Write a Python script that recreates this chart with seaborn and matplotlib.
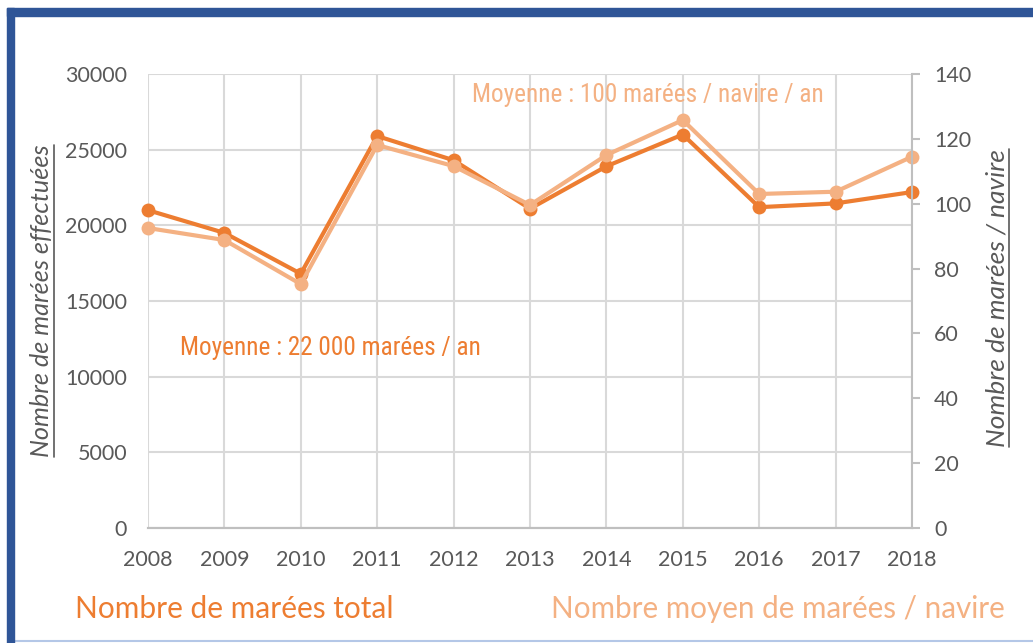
import matplotlib
matplotlib.use('Agg')
import matplotlib.pyplot as plt
import seaborn as sns
import pandas as pd
from matplotlib import font_manager as fm
from matplotlib.patches import Rectangle
from matplotlib.lines import Line2D

sns.set_theme(style='white')
plt.rcParams['font.family'] = ['Lato', 'DejaVu Sans']

# Data
years = [2008, 2009, 2010, 2011, 2012, 2013, 2014, 2015, 2016, 2017, 2018]
marees_total = [21000, 19500, 16800, 25900, 24300, 21100, 23900, 26000, 21200, 21450, 22200]
marees_navire = [92.5, 88.8, 75.2, 118.1, 111.6, 99.6, 115.0, 125.8, 103.0, 103.7, 114.5]
left_ticks = [0, 5000, 10000, 15000, 20000, 25000, 30000]
right_ticks = [0, 20, 40, 60, 80, 100, 120, 140]

dark = '#ED7D31'
light = '#F4B183'
grey_txt = '#595959'
grid_c = '#D9D9D9'

# look for a narrow font for the "Moyenne" notes
narrow_fp = None
cands = [f for f in fm.findSystemFonts() if ('Narrow' in f or 'Condensed' in f)
         and 'Bold' not in f and 'Oblique' not in f and 'Italic' not in f]
for key in ['LiberationSansNarrow-Regular', 'RobotoCondensed-Regular', 'DejaVuSansCondensed.ttf',
            'Condensed-Regular', 'Condensed', 'Narrow']:
    hits = [f for f in cands if key in f]
    if hits:
        narrow_fp = fm.FontProperties(fname=sorted(hits)[0])
        break
if narrow_fp is None:
    narrow_fp = fm.FontProperties(family='DejaVu Sans')

df = pd.DataFrame({'annee': years, 'total': marees_total, 'navire': marees_navire})

fig = plt.figure(figsize=(10.33, 6.43), dpi=100)
ax = fig.add_axes([148/1033, 1-528/643, (912-148)/1033, (528-74)/643])

sns.lineplot(data=df, x='annee', y='total', ax=ax, color=dark, lw=3, marker='o',
             markersize=10, markeredgewidth=0, clip_on=False)
ax2 = ax.twinx()
sns.lineplot(data=df, x='annee', y='navire', ax=ax2, color=light, lw=3, marker='o',
             markersize=10, markeredgewidth=0, clip_on=False)

ax.set_xlim(2008, 2018)
ax.set_ylim(0, 30000)
ax2.set_ylim(0, 140)
ax.set_xticks(years)
ax.set_xticklabels([str(y) for y in years])
ax.set_yticks(left_ticks)
ax2.set_yticks(right_ticks)

ax.grid(True, color=grid_c, lw=1.5)
ax.set_axisbelow(True)
ax2.grid(False)

for a in (ax, ax2):
    for s in ('top', 'left', 'right'):
        a.spines[s].set_visible(False)
    a.spines['bottom'].set_color('#BFBFBF')
    a.spines['bottom'].set_linewidth(1.5)
ax2.spines['right'].set_visible(True)
ax2.spines['right'].set_color('#BFBFBF')
ax2.spines['right'].set_linewidth(1.5)

ax.tick_params(axis='both', length=0, labelsize=15.5, labelcolor=grey_txt)
ax.tick_params(axis='x', pad=16)
ax.tick_params(axis='y', pad=15)
ax2.tick_params(axis='y', length=6, width=1.5, color='#BFBFBF', labelsize=15.5,
                labelcolor=grey_txt, pad=10, direction='out')
ax.set_xlabel('')
ax.set_ylabel('')
ax2.set_ylabel('')

# axis titles (italic, underlined)
lab_l = fig.text(42/1033, 1-301/643, 'Nombre de marées effectuées', rotation=90,
                 ha='center', va='center', style='italic', fontsize=18.2, color=grey_txt)
lab_r = fig.text(997/1033, 1-298/643, 'Nombre de marées / navire', rotation=90,
                 ha='center', va='center', style='italic', fontsize=19, color=grey_txt)

# annotations
note1 = fig.text(180/1033, 1-348/643, 'Moyenne : 22 000 marées / an',
                 ha='left', va='center', fontsize=17, color=dark, fontproperties=narrow_fp)
note2 = fig.text(472/1033, 1-95/643, 'Moyenne : 100 marées / navire / an',
                 ha='left', va='center', fontsize=17, color=light, fontproperties=narrow_fp)

# series labels at the bottom
fig.text(75/1033, 1-609/643, 'Nombre de marées total', ha='left', va='center',
         fontsize=21.5, color=dark)
fig.text(1005/1033, 1-609/643, 'Nombre moyen de marées / navire', ha='right', va='center',
         fontsize=21.3, color=light)

# frame
fig.patches.append(Rectangle((7/1033, 0), 7/1033, 1-8/643, transform=fig.transFigure,
                             color='#2F5597', zorder=5))
fig.patches.append(Rectangle((7/1033, 1-16/643), 1-7/1033, 8/643, transform=fig.transFigure,
                             color='#2F5597', zorder=5))
fig.lines.append(Line2D([14/1033, 1], [1-641/643, 1-641/643], transform=fig.transFigure,
                        color='#B4C7E7', lw=1.5))

# fit the note widths to the reference (300 px and 352 px)
fig.canvas.draw()
r = fig.canvas.get_renderer()
for t, w in ((note1, 300), (note2, 352)):
    cur = t.get_window_extent(r).width
    t.set_fontsize(t.get_fontsize() * w / cur)

# underline the axis titles
fig.canvas.draw()
inv = fig.transFigure.inverted()
for t in (lab_l, lab_r):
    bb = t.get_window_extent(r).transformed(inv)
    fig.lines.append(Line2D([bb.x1, bb.x1], [bb.y0, bb.y1], transform=fig.transFigure,
                            color=grey_txt, lw=1.2))

fig.savefig('out.png', dpi=100)
